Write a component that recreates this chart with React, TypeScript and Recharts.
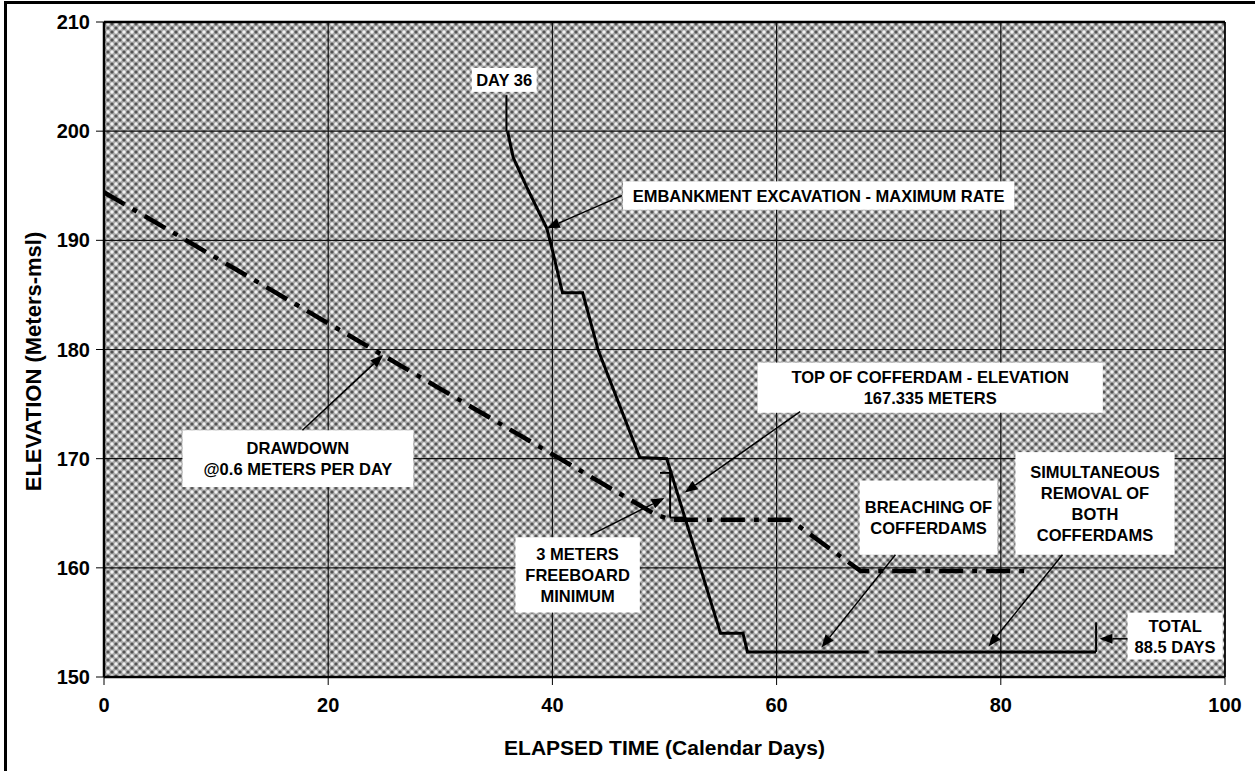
import {
  CartesianGrid,
  Label,
  Line,
  LineChart,
  ReferenceArea,
  ReferenceLine,
  XAxis,
  YAxis,
} from 'recharts'

const FONT = '"Liberation Sans", Arial, Helvetica, sans-serif'

// axis ticks
const tickDays = [0, 20, 40, 60, 80, 100]
const tickElevations = [150, 160, 170, 180, 190, 200, 210]

// embankment excavation (solid line), day / elevation
const excavationDays = [36, 36.5, 37.7, 39.5, 40.0, 40.9, 42.7, 44.1, 47.8, 50.2, 55.0, 57.0, 57.4, 68.2]
const excavationElev = [200, 197.6, 194.9, 191.1, 189.1, 185.2, 185.2, 179.9, 170.1, 170.0, 154.0, 154.0, 152.3, 152.3]

// simultaneous removal of both cofferdams
const removalDays = [69.0, 88.5]
const removalElev = [152.3, 152.3]

// reservoir drawdown (dash-dot line)
const drawdownDays = [0, 49, 50.5, 61.2, 67.5, 82.5]
const drawdownElev = [194.4, 165.0, 164.4, 164.4, 159.7, 159.7]

// annotation texts
const boxTexts = {
  day36: ['DAY 36'],
  embankment: ['EMBANKMENT EXCAVATION - MAXIMUM RATE'],
  cofferdamTop: ['TOP OF COFFERDAM - ELEVATION', '167.335 METERS'],
  drawdown: ['DRAWDOWN', '@0.6 METERS PER DAY'],
  freeboard: ['3 METERS', 'FREEBOARD', 'MINIMUM'],
  breaching: ['BREACHING OF', 'COFFERDAMS'],
  removal: ['SIMULTANEOUS', 'REMOVAL OF', 'BOTH', 'COFFERDAMS'],
  total: ['TOTAL', '88.5 DAYS'],
}

const toRows = (xs: number[], ys: number[]) => xs.map((x, i) => ({ x, y: ys[i] }))

const excavation = toRows(excavationDays, excavationElev)
const removal = toRows(removalDays, removalElev)
const drawdown = toRows(drawdownDays, drawdownElev)

type Box = { key: keyof typeof boxTexts; x1: number; x2: number; y1: number; y2: number }

const boxes: Box[] = [
  { key: 'day36', x1: 32.8, x2: 38.6, y1: 203.6, y2: 205.8 },
  { key: 'embankment', x1: 46.3, x2: 81.2, y1: 192.8, y2: 195.4 },
  { key: 'cofferdamTop', x1: 58.3, x2: 89.1, y1: 174.2, y2: 178.8 },
  { key: 'drawdown', x1: 7.0, x2: 27.6, y1: 167.4, y2: 172.6 },
  { key: 'freeboard', x1: 36.7, x2: 47.8, y1: 155.9, y2: 162.8 },
  { key: 'breaching', x1: 67.4, x2: 79.7, y1: 161.2, y2: 168.0 },
  { key: 'removal', x1: 81.3, x2: 95.5, y1: 161.2, y2: 170.6 },
  { key: 'total', x1: 91.3, x2: 99.8, y1: 151.6, y2: 155.9 },
]

type Seg = { from: [number, number]; to: [number, number]; arrow: boolean }

const leaders: Seg[] = [
  { from: [35.9, 203.3], to: [35.9, 200], arrow: false },
  { from: [46.2, 194.1], to: [39.5, 191.1], arrow: true },
  { from: [62.1, 174.3], to: [51.8, 166.9], arrow: true },
  { from: [17.7, 172.6], to: [24.9, 179.5], arrow: true },
  { from: [43.4, 163.0], to: [50.0, 166.4], arrow: true },
  { from: [70.6, 161.2], to: [64.0, 152.7], arrow: true },
  { from: [85.5, 161.2], to: [78.9, 152.8], arrow: true },
  { from: [91.3, 153.5], to: [88.8, 153.5], arrow: true },
  // freeboard dimension and total marker
  { from: [49.6, 168.7], to: [50.5, 168.7], arrow: false },
  { from: [50.5, 168.7], to: [50.5, 164.6], arrow: false },
  { from: [50.5, 164.6], to: [51.8, 164.6], arrow: false },
  { from: [88.5, 152.3], to: [88.5, 155.0], arrow: false },
]

function ArrowShape(props: any) {
  const { x1, y1, x2, y2, arrow } = props
  if (!arrow) {
    return <line x1={x1} y1={y1} x2={x2} y2={y2} stroke="#000" strokeWidth={2} />
  }
  const ang = Math.atan2(y2 - y1, x2 - x1)
  const len = 13
  const w = 5
  const bx = x2 - len * Math.cos(ang)
  const by = y2 - len * Math.sin(ang)
  const px = -Math.sin(ang) * w
  const py = Math.cos(ang) * w
  return (
    <g>
      <line x1={x1} y1={y1} x2={bx} y2={by} stroke="#000" strokeWidth={1.5} />
      <polygon points={`${x2},${y2} ${bx + px},${by + py} ${bx - px},${by - py}`} fill="#000" />
    </g>
  )
}

function BoxShape(props: any) {
  const { x, y, width, height, lines } = props
  const cx = x + width / 2
  const lh = 21
  const start = y + height / 2 - ((lines.length - 1) * lh) / 2 + 6
  return (
    <g>
      <rect x={x} y={y} width={width} height={height} fill="#fff" />
      <text fontFamily={FONT} fontWeight={700} fontSize={16.5} textAnchor="middle" fill="#000">
        {lines.map((l: string, i: number) => (
          <tspan key={i} x={cx} y={start + i * lh}>
            {l}
          </tspan>
        ))}
      </text>
    </g>
  )
}

const tickStyle = { fontFamily: FONT, fontSize: 20, fontWeight: 700, fill: '#000' }

export default function App() {
  return (
    <div style={{ position: 'absolute', left: 0, top: 0, width: 1255, height: 771, background: '#fff' }}>
      <svg width={0} height={0} style={{ position: 'absolute' }}>
        <defs>
          <pattern id="halftone" width={8} height={8} patternUnits="userSpaceOnUse">
            <rect width={8} height={8} fill="#a8a8a8" />
            <circle cx={0} cy={0} r={1.6} fill="#555" />
            <circle cx={8} cy={0} r={1.6} fill="#555" />
            <circle cx={0} cy={8} r={1.6} fill="#555" />
            <circle cx={8} cy={8} r={1.6} fill="#555" />
            <circle cx={4} cy={4} r={1.6} fill="#555" />
            <circle cx={4} cy={0} r={1.7} fill="#f0f0f0" />
            <circle cx={0} cy={4} r={1.7} fill="#f0f0f0" />
            <circle cx={8} cy={4} r={1.7} fill="#f0f0f0" />
            <circle cx={4} cy={8} r={1.7} fill="#f0f0f0" />
          </pattern>
        </defs>
      </svg>
      <div
        style={{
          position: 'absolute',
          left: 4,
          top: 1,
          width: 1260,
          height: 780,
          borderLeft: '3px solid #000',
          borderTop: '3px solid #000',
        }}
      />
      <LineChart width={1255} height={771} margin={{ top: 22, right: 30, bottom: 0, left: 0 }}>
        <CartesianGrid fill="url(#halftone)" fillOpacity={1} stroke="#111" strokeWidth={1.2} />
        <XAxis
          type="number"
          dataKey="x"
          domain={[0, 100]}
          ticks={tickDays}
          allowDataOverflow
          height={94}
          tick={tickStyle}
          tickSize={8}
          tickMargin={13}
          axisLine={{ stroke: '#000', strokeWidth: 2.5 }}
          tickLine={{ stroke: '#000' }}
        >
          <Label
            value="ELAPSED TIME (Calendar Days)"
            position="center"
            dy={24}
            style={{ fontFamily: FONT, fontSize: 21, fontWeight: 700, fill: '#000' }}
          />
        </XAxis>
        <YAxis
          type="number"
          domain={[150, 210]}
          ticks={tickElevations}
          allowDataOverflow
          width={104}
          tick={tickStyle}
          tickSize={8}
          tickMargin={6}
          axisLine={{ stroke: '#000', strokeWidth: 2.5 }}
          tickLine={{ stroke: '#000' }}
        >
          <Label
            value="ELEVATION (Meters-msl)"
            angle={-90}
            position="center"
            dx={-19}
            dy={12}
            style={{ fontFamily: FONT, fontSize: 22, fontWeight: 700, fill: '#000' }}
          />
        </YAxis>
        <ReferenceLine y={210} stroke="#000" strokeWidth={2.5} />
        <ReferenceLine x={100} stroke="#000" strokeWidth={1.5} />
        {boxes.map((b) => (
          <ReferenceArea
            key={b.key}
            x1={b.x1}
            x2={b.x2}
            y1={b.y1}
            y2={b.y2}
            shape={(p: any) => <BoxShape {...p} lines={boxTexts[b.key]} />}
          />
        ))}
        <Line
          data={drawdown}
          dataKey="y"
          type="linear"
          stroke="#000"
          strokeWidth={4.5}
          strokeDasharray="24 9 5 9"
          dot={false}
          isAnimationActive={false}
        />
        <Line
          data={excavation}
          dataKey="y"
          type="linear"
          stroke="#000"
          strokeWidth={3}
          dot={false}
          isAnimationActive={false}
        />
        <Line
          data={removal}
          dataKey="y"
          type="linear"
          stroke="#000"
          strokeWidth={3}
          dot={false}
          isAnimationActive={false}
        />
        {leaders.map((s, i) => (
          <ReferenceLine
            key={i}
            segment={[
              { x: s.from[0], y: s.from[1] },
              { x: s.to[0], y: s.to[1] },
            ]}
            shape={(p: any) => <ArrowShape {...p} arrow={s.arrow} />}
          />
        ))}
      </LineChart>
    </div>
  )
}
